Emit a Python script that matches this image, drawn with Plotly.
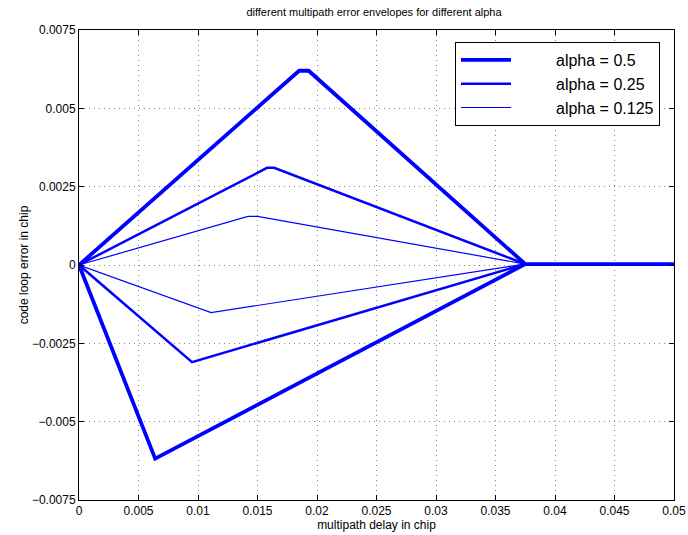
import plotly.graph_objects as go

# data
alphas = ["alpha = 0.5", "alpha = 0.25", "alpha = 0.125"]

upper_x_05 = [0, 0.0185, 0.0193, 0.0375, 0.05]
upper_y_05 = [0, 0.00620, 0.00620, 0.00003, 0.00003]
lower_x_05 = [0, 0.0064, 0.0375]
lower_y_05 = [0, -0.00618, 0.00003]

upper_x_025 = [0, 0.0158, 0.0164, 0.0375]
upper_y_025 = [0, 0.00310, 0.00310, 0.00003]
lower_x_025 = [0, 0.0095, 0.0375]
lower_y_025 = [0, -0.00310, 0.00003]

upper_x_0125 = [0, 0.0142, 0.0150, 0.0375]
upper_y_0125 = [0, 0.00155, 0.00155, 0.00003]
lower_x_0125 = [0, 0.0111, 0.0375]
lower_y_0125 = [0, -0.00152, 0.00003]

widths = [3.8, 2.5, 1.2]

x_ticks = [0, 0.005, 0.01, 0.015, 0.02, 0.025, 0.03, 0.035, 0.04, 0.045, 0.05]
x_ticklabels = ["0", "0.005", "0.01", "0.015", "0.02", "0.025", "0.03", "0.035", "0.04", "0.045", "0.05"]
y_ticks = [-0.0075, -0.005, -0.0025, 0, 0.0025, 0.005, 0.0075]
y_ticklabels = ["\u22120.0075", "\u22120.005", "\u22120.0025", "0", "0.0025", "0.005", "0.0075"]

series = [
    (upper_x_05, upper_y_05, lower_x_05, lower_y_05),
    (upper_x_025, upper_y_025, lower_x_025, lower_y_025),
    (upper_x_0125, upper_y_0125, lower_x_0125, lower_y_0125),
]

fig = go.Figure()
blue = "#0000ff"
for name, w, (ux, uy, lx, ly) in zip(alphas, widths, series):
    fig.add_trace(go.Scatter(x=ux, y=uy, mode="lines", name="         " + name,
                             line=dict(color=blue, width=w), legendgroup=name))
    fig.add_trace(go.Scatter(x=lx, y=ly, mode="lines", name=name, showlegend=False,
                             line=dict(color=blue, width=w), legendgroup=name))

font = "Liberation Sans, Arial, Helvetica, sans-serif"
W, H = 688, 535
fig.update_layout(
    width=W, height=H,
    margin=dict(l=79, r=14, t=30, b=35, autoexpand=False),
    paper_bgcolor="white", plot_bgcolor="white",
    font=dict(family=font, color="black", size=12),
    title=dict(text="different multipath error envelopes for different alpha",
               x=374 / W, xanchor="center", y=1 - 12 / H, yanchor="middle",
               font=dict(size=11)),
    showlegend=True,
    legend=dict(x=1 - 14 / 595, xanchor="right", y=1 - 12 / 470, yanchor="top",
                bgcolor="white", bordercolor="black", borderwidth=1,
                font=dict(size=16, family=font), tracegroupgap=0,
                itemwidth=50),
)
grid = dict(showgrid=True, gridcolor="#888888", griddash="1px,4px", gridwidth=1)
fig.update_xaxes(range=[0, 0.05], tickvals=x_ticks, ticktext=x_ticklabels,
                 showline=True, linecolor="black", linewidth=1, mirror="ticks",
                 ticks="inside", ticklen=5, tickcolor="black", automargin=False,
                 zeroline=False, tickfont=dict(size=12), **grid,
                 title=dict(text="multipath delay in chip", font=dict(size=12), standoff=2))
fig.update_yaxes(range=[-0.0075, 0.0075], tickvals=y_ticks, ticktext=y_ticklabels,
                 showline=True, linecolor="black", linewidth=1, mirror="ticks",
                 ticks="inside", ticklen=5, tickcolor="black", automargin=False,
                 zeroline=False, tickfont=dict(size=12), **grid,
                 title=dict(text="code loop error in chip", font=dict(size=12), standoff=0))

fig.write_html("out.html", config={"displayModeBar": False},
               post_script="document.body.style.margin='0';document.body.style.overflow='hidden';")
